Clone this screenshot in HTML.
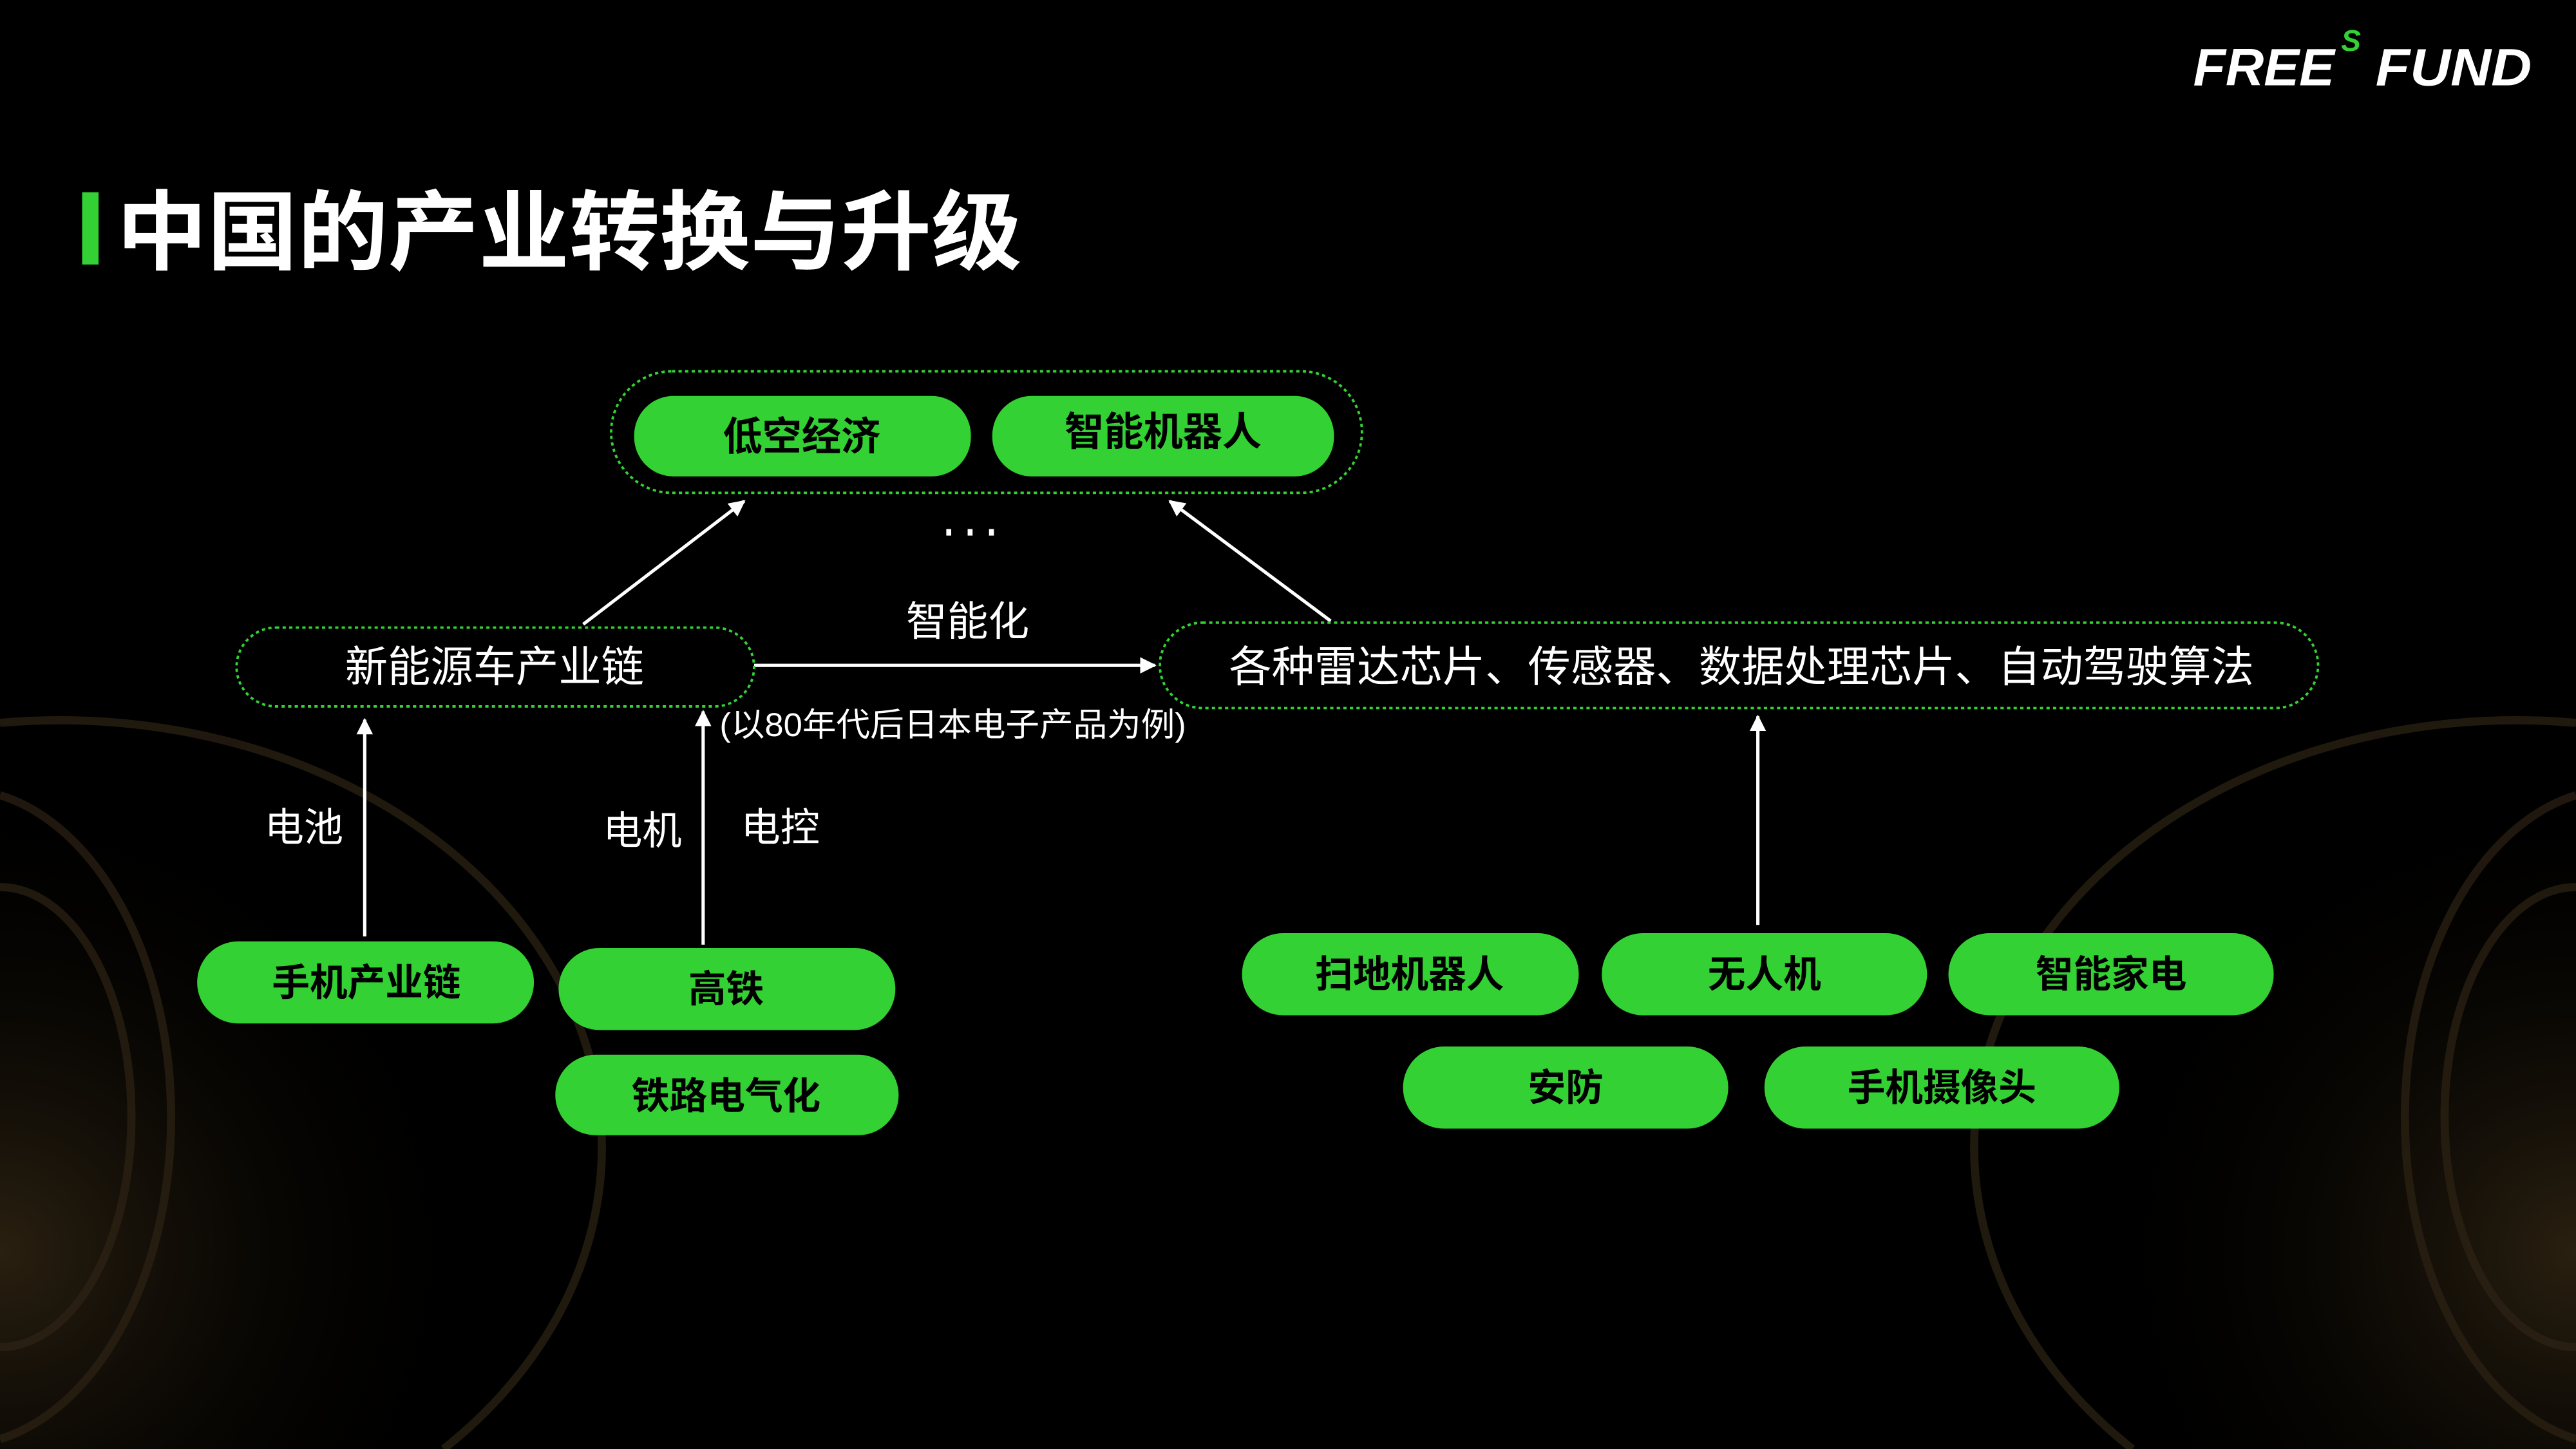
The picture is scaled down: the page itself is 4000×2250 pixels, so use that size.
<!DOCTYPE html>
<html><head><meta charset="utf-8"><style>
html,body{margin:0;padding:0;background:#000;width:4000px;height:2250px;overflow:hidden;}
svg{display:block}
text{font-family:"Liberation Sans","Noto Sans CJK SC",sans-serif;}
</style></head><body>
<svg width="4000" height="2250" viewBox="0 0 1568 882" xmlns="http://www.w3.org/2000/svg">
<defs>
<marker id="a" viewBox="0 0 10 10" refX="9" refY="5" markerWidth="5" markerHeight="5" orient="auto"><path d="M0,0 L10,5 L0,10 z" fill="#fff"/></marker>
<radialGradient id="gl" cx="0" cy="0.75" r="0.6"><stop offset="0" stop-color="#2a2010"/><stop offset="1" stop-color="#000" stop-opacity="0"/></radialGradient>
<clipPath id="cp"><rect x="0" y="0" width="1568" height="882"/></clipPath>
</defs>
<rect width="1568" height="882" fill="#000"/>
<g clip-path="url(#cp)">
<rect x="0" y="400" width="500" height="482" fill="url(#gl)"/>
<rect x="1068" y="400" width="500" height="482" fill="url(#gl)" transform="translate(2636,0) scale(-1,1)"/>
<g fill="none" stroke="#2e2314" stroke-width="5" opacity="0.7">
<path d="M0,540 A80,140 0 0 1 0,820"/>
<path d="M0,484 A130,200 0 0 1 0,876"/>
<path d="M0,440 A330,260 0 0 1 270,882"/>
<path d="M1568,540 A80,140 0 0 0 1568,820"/>
<path d="M1568,484 A130,200 0 0 0 1568,876"/>
<path d="M1568,440 A330,260 0 0 0 1298,882"/>
</g>
</g>
<!-- logo -->
<text x="1335" y="52" font-size="32" font-weight="bold" font-style="italic" fill="#fff" textLength="86" lengthAdjust="spacingAndGlyphs">FREE</text>
<text x="1425" y="31" font-size="18" font-weight="bold" font-style="italic" fill="#33d133">S</text>
<text x="1446" y="52" font-size="32" font-weight="bold" font-style="italic" fill="#fff" textLength="95" lengthAdjust="spacingAndGlyphs">FUND</text>
<!-- title -->
<rect x="50" y="117" width="10" height="44" fill="#33d133"/>
<text x="71" y="160" font-size="53" font-weight="bold" fill="#fff" textLength="551" lengthAdjust="spacingAndGlyphs">中国的产业转换与升级</text>
<!-- top group -->
<rect x="372" y="226" width="457" height="74" rx="37" fill="none" stroke="#33d133" stroke-width="1.5" stroke-dasharray="2 2"/>
<rect x="386" y="241" width="205" height="49" rx="24" fill="#33d133"/>
<rect x="604" y="241" width="208" height="49" rx="24" fill="#33d133"/>
<g font-size="24" font-weight="bold" fill="#000" text-anchor="middle">
<text x="488" y="274">低空经济</text>
<text x="708" y="271">智能机器人</text>
</g>
<g fill="#fff"><rect x="576" y="322" width="3" height="4"/><rect x="589" y="322" width="3" height="4"/><rect x="602" y="322" width="3" height="4"/></g>
<!-- arrows -->
<g stroke="#fff" stroke-width="2" marker-end="url(#a)">
<line x1="355" y1="380" x2="453" y2="305"/>
<line x1="810" y1="378" x2="712" y2="305"/>
<line x1="459" y1="405" x2="703" y2="405"/>
<line x1="222" y1="570" x2="222" y2="438"/>
<line x1="428" y1="575" x2="428" y2="433"/>
<line x1="1070" y1="563" x2="1070" y2="436"/>
</g>
<!-- middle containers -->
<rect x="144" y="382" width="315" height="48" rx="24" fill="none" stroke="#33d133" stroke-width="1.5" stroke-dasharray="2 2"/>
<rect x="706" y="379" width="705" height="52" rx="26" fill="none" stroke="#33d133" stroke-width="1.5" stroke-dasharray="2 2"/>
<g fill="#fff" text-anchor="middle">
<text x="301" y="415" font-size="26">新能源车产业链</text>
<text x="1060" y="415" font-size="26">各种雷达芯片、传感器、数据处理芯片、自动驾驶算法</text>
<text x="589" y="387" font-size="25">智能化</text>
<text x="185" y="512" font-size="24">电池</text>
<text x="391" y="514" font-size="24">电机</text>
<text x="475" y="512" font-size="24">电控</text>
</g>
<text x="438" y="448" font-size="20" fill="#fff" textLength="284" lengthAdjust="spacingAndGlyphs">(以80年代后日本电子产品为例)</text>
<!-- bottom pills -->
<g fill="#33d133">
<rect x="120" y="573" width="205" height="50" rx="25"/>
<rect x="340" y="577" width="205" height="50" rx="25"/>
<rect x="338" y="642" width="209" height="49" rx="24.5"/>
<rect x="756" y="568" width="205" height="50" rx="25"/>
<rect x="975" y="568" width="198" height="50" rx="25"/>
<rect x="1186" y="568" width="198" height="50" rx="25"/>
<rect x="854" y="637" width="198" height="50" rx="25"/>
<rect x="1074" y="637" width="216" height="50" rx="25"/>
</g>
<g font-size="23" font-weight="bold" fill="#000" text-anchor="middle">
<text x="223" y="606">手机产业链</text>
<text x="442" y="610">高铁</text>
<text x="442" y="675">铁路电气化</text>
<text x="858" y="601">扫地机器人</text>
<text x="1074" y="601">无人机</text>
<text x="1285" y="601">智能家电</text>
<text x="953" y="670">安防</text>
<text x="1182" y="670">手机摄像头</text>
</g>
</svg>
</body></html>
